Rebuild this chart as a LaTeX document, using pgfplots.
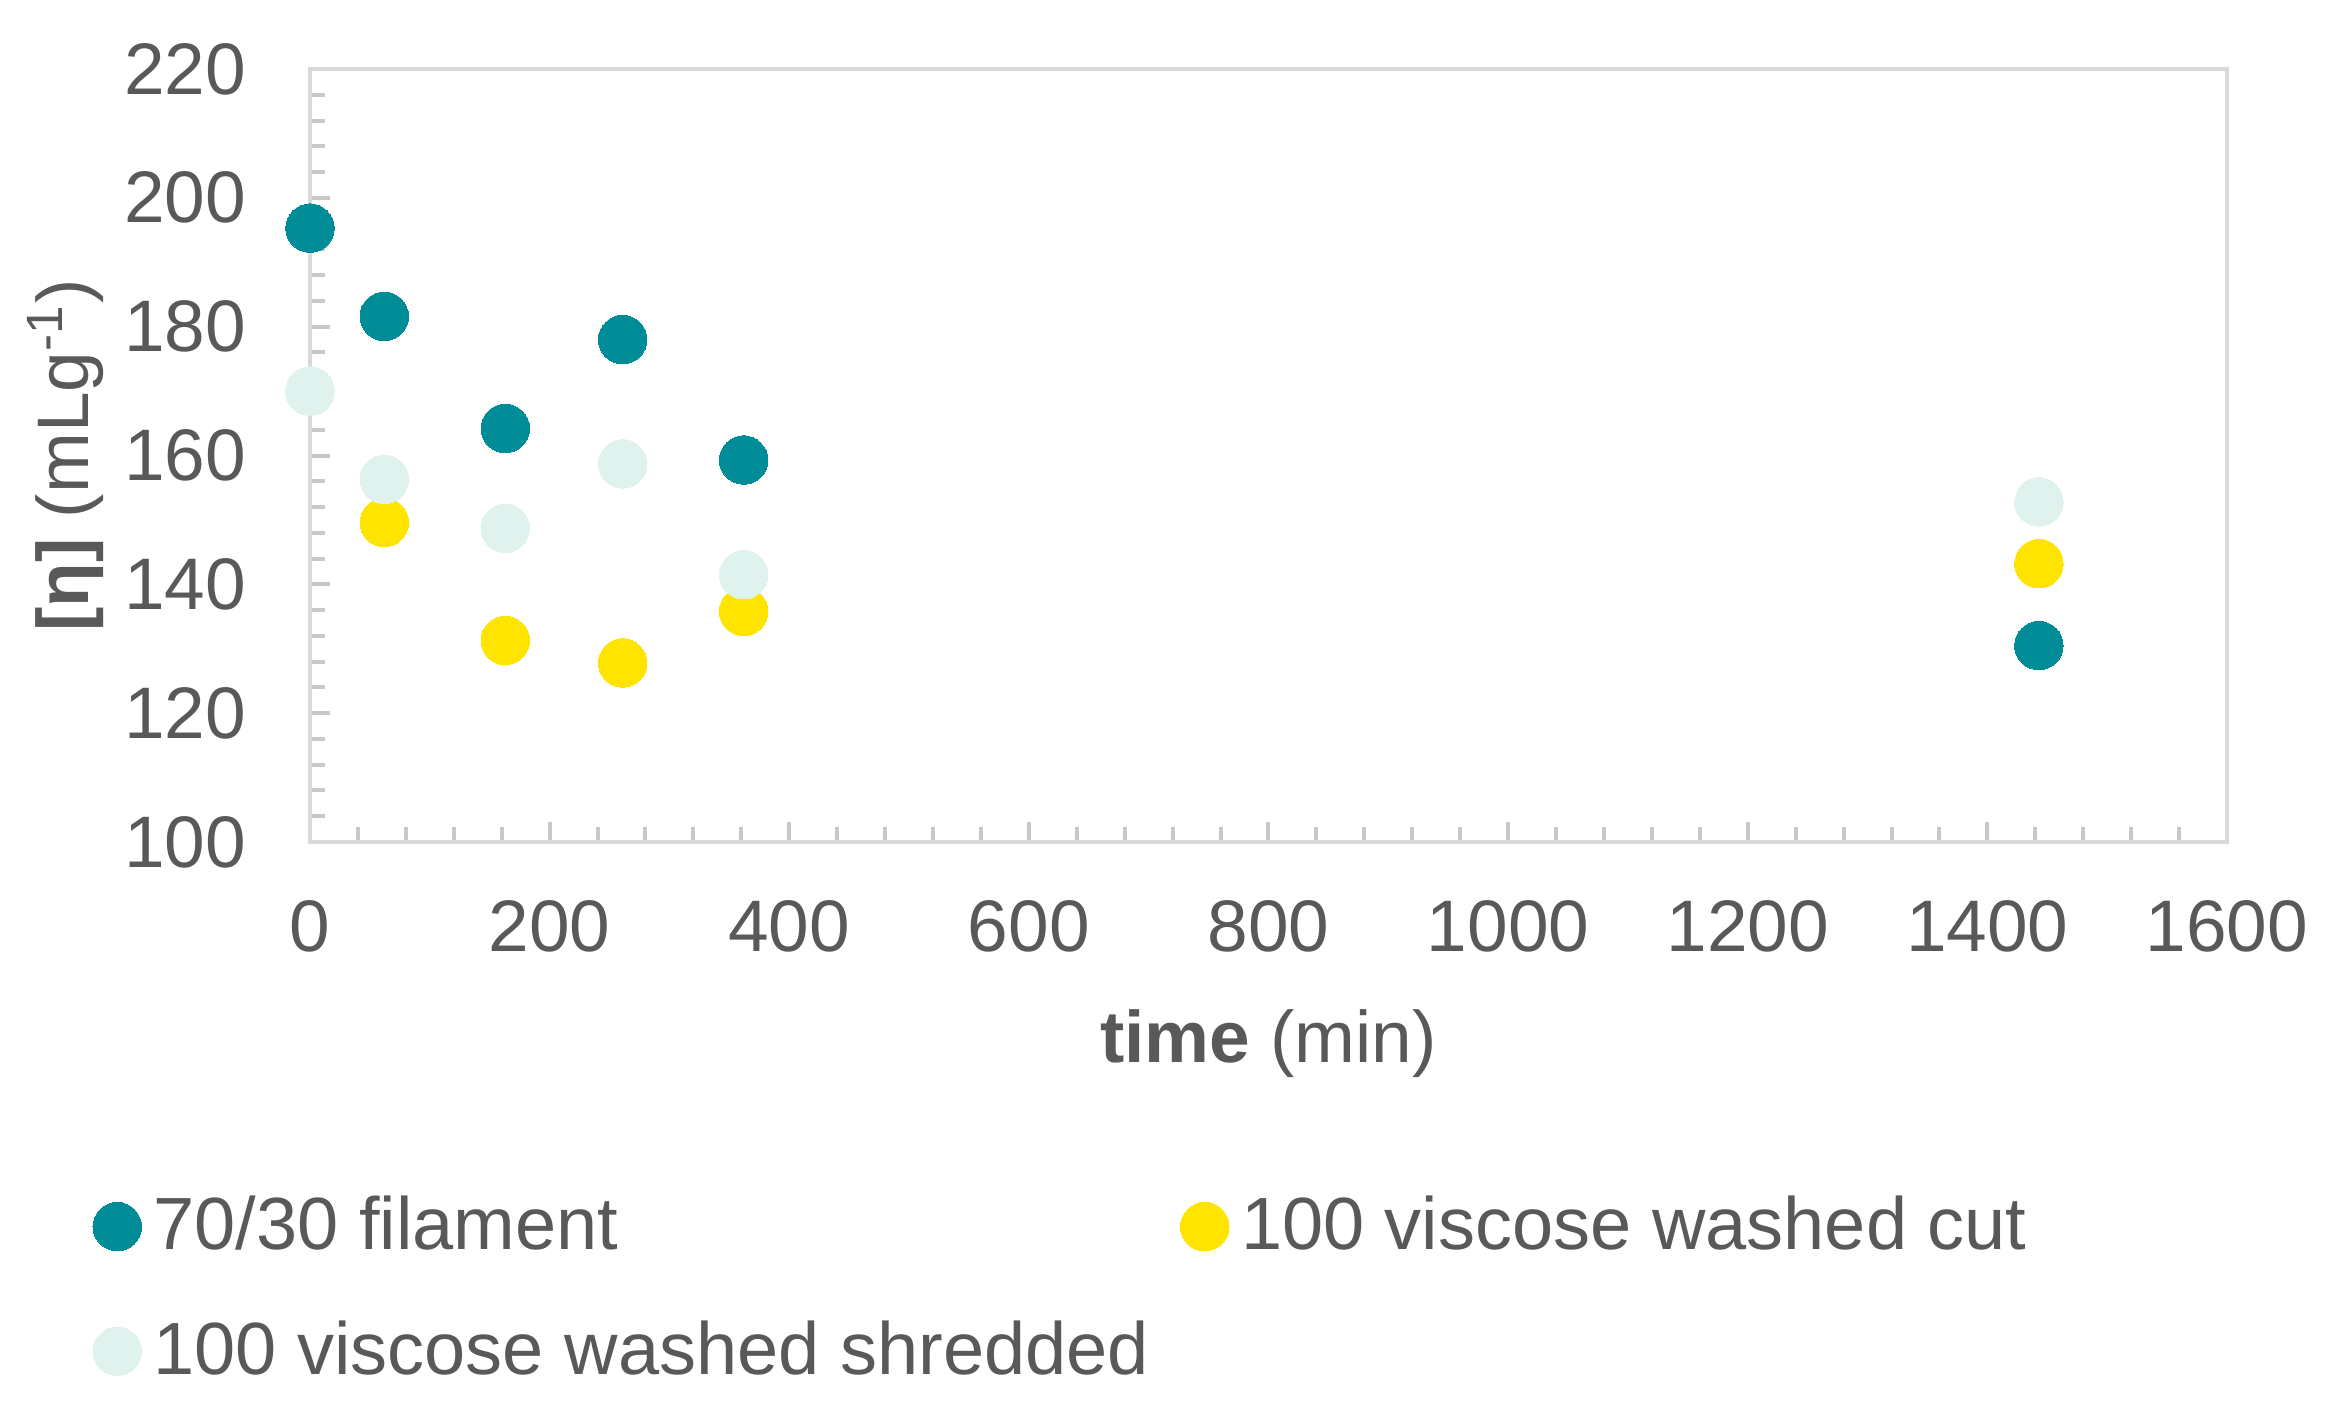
\documentclass[border=0pt]{standalone}
\usepackage{pgfplots}
\pgfplotsset{compat=1.18}
\usepackage{fontspec}
\setmainfont{Liberation Sans}
\definecolor{teal1}{HTML}{008C96}
\definecolor{yel}{HTML}{FFE400}
\definecolor{mint}{HTML}{DFF2EE}
\definecolor{txt}{HTML}{595959}
\definecolor{axgray}{HTML}{D9D9D9}
\definecolor{tickgray}{HTML}{C8C8C8}
\begin{document}
\begin{tikzpicture}
\path (-62pt,-113pt) rectangle (404.2pt,168.4pt);
\begin{axis}[
  at={(0,0)}, anchor=south west,
  scale only axis, width=383.4pt, height=154.6pt,
  xmin=0, xmax=1600, ymin=100, ymax=220,
  xtick={0,200,...,1600}, ytick={100,120,...,220},
  minor x tick num=4, minor y tick num=4,
  tick align=inside, xtick pos=bottom, ytick pos=left,
  major tick length=4pt, minor tick length=3pt,
  axis line style={axgray, line width=0.8pt},
  every tick/.style={tickgray, line width=0.8pt},
  every minor tick/.style={tickgray, line width=0.8pt},
  tick label style={font=\fontsize{14.6}{16}\selectfont, text=txt, inner sep=0pt},
  /pgf/number format/assume math mode=true,
  /pgf/number format/1000 sep={},
  yticklabel style={anchor=east, xshift=-12.6pt},
  xticklabel style={anchor=north, yshift=-11.6pt},
  every axis x label/.style={at={(axis description cs:0.5,0)}, anchor=base, yshift=-44pt, font=\fontsize{14.6}{16}\selectfont, text=txt, inner sep=0pt},
  every axis y label/.style={at={(axis description cs:0,0.5)}, xshift=-44.2pt, rotate=90, anchor=base, font=\fontsize{14.6}{16}\selectfont, text=txt, inner sep=0pt},
  xlabel={\textbf{time} (min)},
  ylabel={\textbf{[η]} (mLg\textsuperscript{-1})},
  clip=false,
  legend style={
    at={(axis description cs:0,0)}, anchor=north west, xshift=-43.4pt, yshift=-70.8pt,
    draw=none, fill=none, inner sep=0pt, outer sep=0pt,
    font=\fontsize{14.8}{17}\selectfont, text=txt,
    nodes={inner sep=0pt, text=txt},
    column sep=0pt, row sep=12.7pt,
    /tikz/every odd column/.append style={column sep=2.4pt},
    /tikz/every even column/.append style={column sep=6.3pt},
  },
  legend columns=2,
  legend cell align=left,
  legend image code/.code={\draw[#1] plot coordinates {(4.85pt,0pt)};},
]
\addplot[only marks, mark=*, mark size=4.85pt, color=teal1, mark options={line width=0pt}] coordinates {
(0,195.3) (62,181.6) (163,164.2) (261,178.0) (362,159.3) (1443,130.5)};
\addlegendentry{70/30 filament}
\addplot[only marks, mark=*, mark size=4.85pt, color=yel, mark options={line width=0pt}] coordinates {
(0,170.0) (62,149.6) (163,131.3) (261,127.8) (362,135.8) (1443,143.2)};
\addlegendentry{100 viscose washed cut}
\addplot[only marks, mark=*, mark size=4.85pt, color=mint, mark options={line width=0pt}] coordinates {
(0,170.0) (62,156.3) (163,148.7) (261,158.7) (362,141.5) (1443,152.8)};
\addlegendentry{100 viscose washed shredded}
\end{axis}
\end{tikzpicture}
\end{document}
